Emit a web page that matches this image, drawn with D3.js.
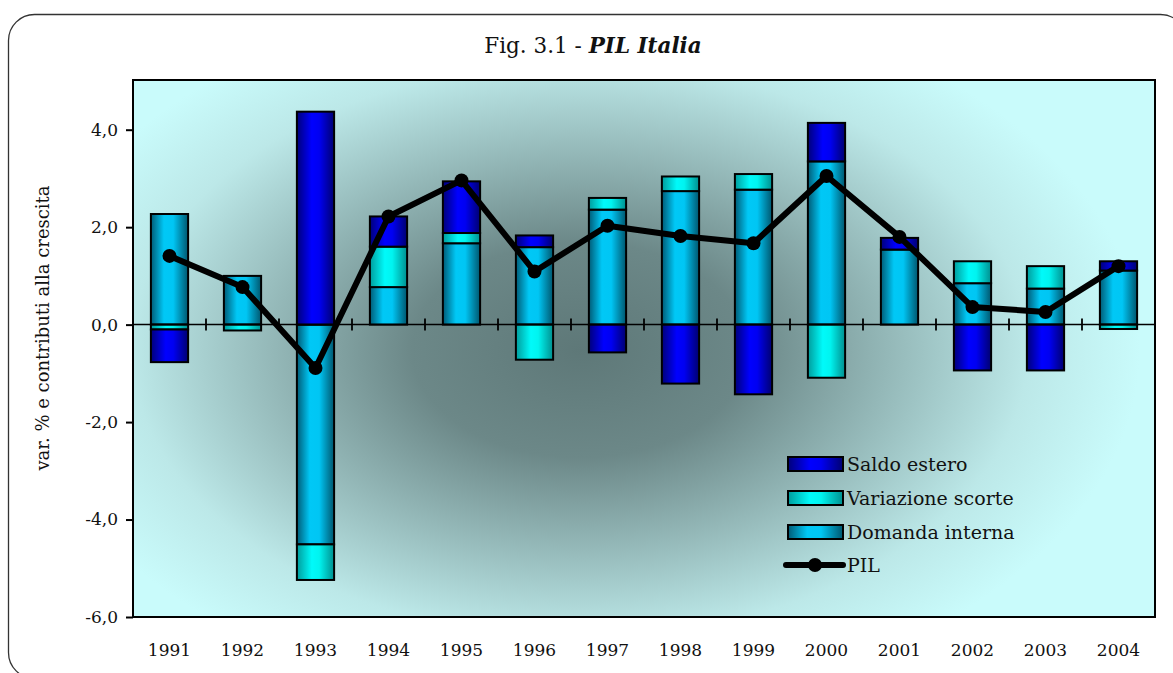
<!DOCTYPE html>
<html>
<head>
<meta charset="utf-8">
<script src="https://cdn.jsdelivr.net/npm/d3@7.9.0/dist/d3.min.js"></script>
<style>
  body { margin: 0; background: #fff; }
  svg { display: block; font-family: 'DejaVu Serif', serif; }
</style>
</head>
<body>
<svg id="chart" width="1173" height="673"></svg>
<script>
// data
const years = ['1991', '1992', '1993', '1994', '1995', '1996', '1997',
  '1998', '1999', '2000', '2001', '2002', '2003', '2004'];
const domandaInterna = [2.27, 1.0, -4.51, 0.77, 1.67, 1.59, 2.36, 2.74, 2.77, 3.35, 1.54, 0.85, 0.74, 1.11];
const variazioneScorte = [-0.1, -0.12, -0.73, 0.83, 0.21, -0.72, 0.24, 0.3, 0.32, -1.09, 0.0, 0.45, 0.46, -0.09];
const saldoEstero = [-0.67, 0.0, 4.37, 0.62, 1.06, 0.24, -0.57, -1.21, -1.43, 0.79, 0.24, -0.94, -0.94, 0.19];
const pil = [1.41, 0.77, -0.89, 2.22, 2.96, 1.09, 2.03, 1.82, 1.67, 3.05, 1.8, 0.36, 0.26, 1.2];
const yTicks = [-6, -4, -2, 0, 2, 4];

const series = [
  { key: 'di', name: 'Domanda interna', values: domandaInterna },
  { key: 'vs', name: 'Variazione scorte', values: variazioneScorte },
  { key: 'se', name: 'Saldo estero', values: saldoEstero },
];

const svg = d3.select('#chart');
const plot = { left: 133, top: 80, right: 1155, bottom: 617 };

const defs = svg.append('defs');

// background radial shading of the plot area (wide ellipse)
const bg = defs.append('radialGradient')
  .attr('id', 'bg')
  .attr('gradientUnits', 'userSpaceOnUse')
  .attr('cx', 580).attr('cy', 350).attr('r', 560)
  .attr('gradientTransform', 'translate(580,350) scale(1,0.64) translate(-580,-350)');
bg.append('stop').attr('offset', 0).attr('stop-color', '#5e7878');
bg.append('stop').attr('offset', 0.3).attr('stop-color', '#6c8888');
bg.append('stop').attr('offset', 0.55).attr('stop-color', '#94b8b8');
bg.append('stop').attr('offset', 0.8).attr('stop-color', '#bce8e8');
bg.append('stop').attr('offset', 1).attr('stop-color', '#c9fbfb');

// cylinder-like horizontal gradients for bars
const barGrads = {
  di: [['0', '#005b76'], ['0.35', '#00c8f6'], ['0.6', '#00c6f4'], ['1', '#00566e']],
  vs: [['0', '#009c9c'], ['0.4', '#00fafa'], ['0.6', '#00f4f0'], ['1', '#008f8f']],
  se: [['0', '#00007a'], ['0.4', '#0000ff'], ['0.6', '#0000f2'], ['1', '#000070']],
};
Object.entries(barGrads).forEach(([k, stops]) => {
  const g = defs.append('linearGradient').attr('id', 'g-' + k)
    .attr('x1', 0).attr('x2', 1).attr('y1', 0).attr('y2', 0);
  stops.forEach(s => g.append('stop').attr('offset', s[0]).attr('stop-color', s[1]));
});

// outer rounded frame
svg.append('rect')
  .attr('x', 8.5).attr('y', 14.5)
  .attr('width', 1178).attr('height', 664)
  .attr('rx', 26)
  .attr('fill', 'none')
  .attr('stroke', '#333')
  .attr('stroke-width', 1.3);

// title
const title = svg.append('text')
  .attr('x', 593).attr('y', 53)
  .attr('text-anchor', 'middle')
  .attr('font-size', 21.5)
  .attr('fill', '#111');
title.append('tspan').text('Fig. 3.1 - ');
title.append('tspan').attr('font-weight', 'bold').attr('font-style', 'italic').text('PIL Italia');

// scales
const x = d3.scaleBand()
  .domain(years)
  .range([plot.left, plot.right])
  .paddingInner(0.49)
  .paddingOuter(0.245);
const y = d3.scaleLinear()
  .domain([-6, 5.02])
  .range([plot.bottom, plot.top]);

// plot background
svg.append('rect')
  .attr('x', plot.left).attr('y', plot.top)
  .attr('width', plot.right - plot.left).attr('height', plot.bottom - plot.top)
  .attr('fill', 'url(#bg)');

// stacked bars, diverging
const rows = years.map((yr, i) => {
  const r = { year: yr };
  series.forEach(s => { r[s.key] = s.values[i]; });
  return r;
});
const stack = d3.stack()
  .keys(series.map(s => s.key))
  .offset(d3.stackOffsetDiverging);
const stacked = stack(rows);

svg.append('g').selectAll('g')
  .data(stacked)
  .join('g')
  .attr('fill', d => 'url(#g-' + d.key + ')')
  .selectAll('rect')
  .data(d => d.filter(p => p[1] !== p[0]))
  .join('rect')
  .attr('x', d => x(d.data.year))
  .attr('width', x.bandwidth())
  .attr('y', d => y(Math.max(d[0], d[1])))
  .attr('height', d => Math.abs(y(d[0]) - y(d[1])))
  .attr('stroke', '#000')
  .attr('stroke-width', 2);

// zero axis with crossing ticks at category boundaries
const step = x.step();
svg.append('line')
  .attr('x1', plot.left).attr('x2', plot.right)
  .attr('y1', y(0)).attr('y2', y(0))
  .attr('stroke', '#000').attr('stroke-width', 1.5);
svg.append('g').selectAll('line')
  .data(years.slice(1))
  .join('line')
  .attr('x1', d => x(d) - (step - x.bandwidth()) / 2)
  .attr('x2', d => x(d) - (step - x.bandwidth()) / 2)
  .attr('y1', y(0) - 6).attr('y2', y(0) + 6)
  .attr('stroke', '#000').attr('stroke-width', 1.8);

// PIL line
const line = d3.line()
  .x((d, i) => x(years[i]) + x.bandwidth() / 2)
  .y(d => y(d));
svg.append('path')
  .datum(pil)
  .attr('d', line)
  .attr('fill', 'none')
  .attr('stroke', '#000')
  .attr('stroke-width', 6)
  .attr('stroke-linejoin', 'round');
svg.append('g').selectAll('circle')
  .data(pil)
  .join('circle')
  .attr('cx', (d, i) => x(years[i]) + x.bandwidth() / 2)
  .attr('cy', d => y(d))
  .attr('r', 7)
  .attr('fill', '#000');

// plot frame
svg.append('rect')
  .attr('x', plot.left).attr('y', plot.top)
  .attr('width', plot.right - plot.left).attr('height', plot.bottom - plot.top)
  .attr('fill', 'none')
  .attr('stroke', '#000')
  .attr('stroke-width', 2);

// y axis
const yAxis = d3.axisLeft(y)
  .tickValues(yTicks)
  .tickSize(7)
  .tickFormat(d => d.toFixed(1).replace('.', ','));
const gy = svg.append('g')
  .attr('transform', `translate(${plot.left},0)`)
  .call(yAxis);
gy.select('.domain').remove();
gy.selectAll('.tick line').attr('stroke', '#000').attr('stroke-width', 2);
gy.selectAll('.tick text')
  .attr('x', -15)
  .attr('font-size', 17)
  .attr('font-family', 'DejaVu Serif, serif')
  .attr('fill', '#111');

// x labels
svg.append('g').selectAll('text')
  .data(years)
  .join('text')
  .attr('x', d => x(d) + x.bandwidth() / 2)
  .attr('y', 656)
  .attr('text-anchor', 'middle')
  .attr('font-size', 17)
  .attr('fill', '#111')
  .text(d => d);

// y axis title
svg.append('text')
  .attr('transform', 'translate(49,328) rotate(-90)')
  .attr('text-anchor', 'middle')
  .attr('font-size', 18)
  .attr('fill', '#111')
  .text('var. % e contributi alla crescita');

// legend
const legendItems = [
  { key: 'se', name: 'Saldo estero' },
  { key: 'vs', name: 'Variazione scorte' },
  { key: 'di', name: 'Domanda interna' },
  { key: 'pil', name: 'PIL' },
];
const legend = svg.append('g').attr('transform', 'translate(788,457)');
legendItems.forEach((it, i) => {
  const g = legend.append('g').attr('transform', `translate(0,${i * 34})`);
  if (it.key === 'pil') {
    g.append('line').attr('x1', -2).attr('x2', 55).attr('y1', 6).attr('y2', 6)
      .attr('stroke', '#000').attr('stroke-width', 6).attr('stroke-linecap', 'round');
    g.append('circle').attr('cx', 27).attr('cy', 6).attr('r', 7).attr('fill', '#000');
  } else {
    g.append('rect').attr('x', 0).attr('y', 0).attr('width', 55).attr('height', 14)
      .attr('fill', 'url(#g-' + it.key + ')')
      .attr('stroke', '#000').attr('stroke-width', 2);
  }
  g.append('text')
    .attr('x', 59).attr('y', it.key === 'pil' ? 13 : 14)
    .attr('font-size', 19)
    .attr('fill', '#111')
    .text(it.name);
});
</script>
</body>
</html>
